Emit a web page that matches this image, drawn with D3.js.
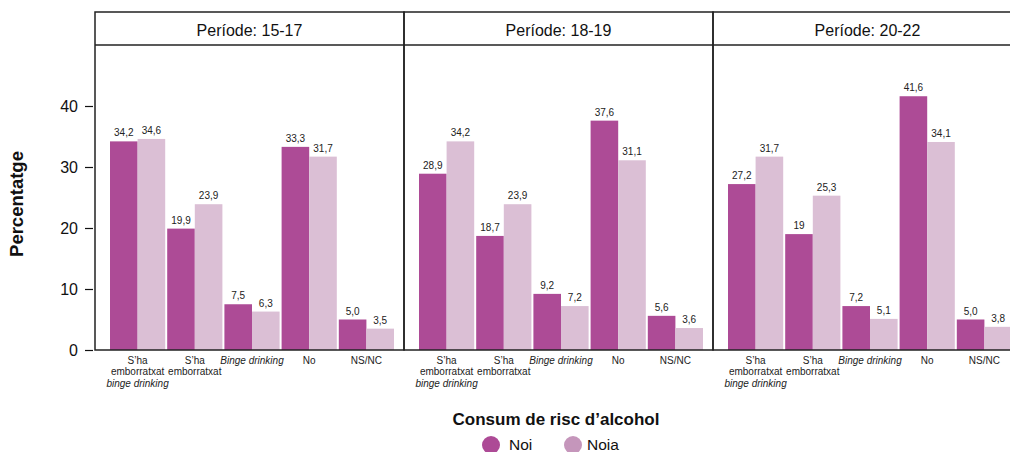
<!DOCTYPE html>
<html><head><meta charset="utf-8">
<script src="https://cdn.jsdelivr.net/npm/d3@7/dist/d3.min.js"></script>
<style>body{margin:0;background:#fff;} svg{display:block;font-family:"Liberation Sans",Arial,sans-serif;}</style>
</head><body>
<svg id="c" width="1010" height="452"></svg>
<script>
const periods = ["15-17", "18-19", "20-22"];
const categories = ["S’ha emborratxat binge drinking", "S’ha emborratxat", "Binge drinking", "No", "NS/NC"];
const sexes = ["Noi", "Noia"];
const noiValues = [
  [34.2, 19.9, 7.5, 33.3, 5.0],
  [28.9, 18.7, 9.2, 37.6, 5.6],
  [27.2, 19.0, 7.2, 41.6, 5.0]
];
const noiaValues = [
  [34.6, 23.9, 6.3, 31.7, 3.5],
  [34.2, 23.9, 7.2, 31.1, 3.6],
  [31.7, 25.3, 5.1, 34.1, 3.8]
];
const noiLabels = [
  ["34,2", "19,9", "7,5", "33,3", "5,0"],
  ["28,9", "18,7", "9,2", "37,6", "5,6"],
  ["27,2", "19", "7,2", "41,6", "5,0"]
];
const noiaLabels = [
  ["34,6", "23,9", "6,3", "31,7", "3,5"],
  ["34,2", "23,9", "7,2", "31,1", "3,6"],
  ["31,7", "25,3", "5,1", "34,1", "3,8"]
];
const yTicks = [0, 10, 20, 30, 40];
const colors = {Noi: "#ad4b96", Noia: "#dbbfd5"};
const legendColors = {Noi: "#ad4a96", Noia: "#c596bb"};

const svg = d3.select("#c");
const topY = 12, stripH = 33, bottomY = 350, panelW = 309, firstLeft = 95;
const y = d3.scaleLinear().domain([0, 50]).range([bottomY, topY + stripH]);

const catLines = {
  "S’ha emborratxat binge drinking": [["S’ha", false], ["emborratxat", false], ["binge drinking", true]],
  "S’ha emborratxat": [["S’ha", false], ["emborratxat", false]],
  "Binge drinking": [["Binge drinking", true]],
  "No": [["No", false]],
  "NS/NC": [["NS/NC", false]]
};

periods.forEach((p, pi) => {
  const left = firstLeft + pi * panelW;
  const g = svg.append("g");
  const x = d3.scaleBand().domain(categories).range([left + 15, left + 299]).paddingInner(0.035);
  const xs = d3.scaleBand().domain(sexes).range([0, x.bandwidth()]);
  const rows = [];
  categories.forEach((c, ci) => {
    rows.push({c, s: "Noi", v: noiValues[pi][ci], l: noiLabels[pi][ci]});
    rows.push({c, s: "Noia", v: noiaValues[pi][ci], l: noiaLabels[pi][ci]});
  });
  g.selectAll("rect.bar").data(rows).join("rect").attr("class", "bar")
    .attr("x", d => x(d.c) + xs(d.s)).attr("width", xs.bandwidth())
    .attr("y", d => y(d.v)).attr("height", d => y(0) - y(d.v))
    .attr("fill", d => colors[d.s]);
  g.selectAll("text.val").data(rows).join("text").attr("class", "val")
    .attr("x", d => x(d.c) + xs(d.s) + xs.bandwidth() / 2)
    .attr("y", d => y(d.v) - 5)
    .attr("text-anchor", "middle").attr("font-size", 10).attr("fill", "#222")
    .text(d => d.l);
  categories.forEach(c => {
    const t = g.append("text").attr("text-anchor", "middle").attr("font-size", 10).attr("fill", "#222");
    catLines[c].forEach((ln, li) => {
      t.append("tspan").attr("x", x(c) + x.bandwidth() / 2).attr("y", 363.5 + li * 11.6)
        .attr("font-style", ln[1] ? "italic" : "normal").text(ln[0]);
    });
  });
  g.append("rect").attr("x", left).attr("y", topY).attr("width", panelW).attr("height", bottomY - topY)
    .attr("fill", "none").attr("stroke", "#222").attr("stroke-width", 1.5);
  g.append("line").attr("x1", left).attr("x2", left + panelW).attr("y1", topY + stripH).attr("y2", topY + stripH)
    .attr("stroke", "#222").attr("stroke-width", 1.5);
  g.append("text").attr("x", left + panelW / 2).attr("y", topY + 24).attr("text-anchor", "middle")
    .attr("font-size", 16).attr("fill", "#111").text("Període: " + p);
});

const ya = svg.append("g").attr("transform", "translate(93,0)")
  .call(d3.axisLeft(y).tickValues(yTicks).tickSize(8).tickPadding(7));
ya.select(".domain").remove();
ya.selectAll(".tick line").attr("stroke", "#111").attr("stroke-width", 1.2);
ya.selectAll(".tick text").attr("font-size", 16).attr("fill", "#111").attr("font-family", "Liberation Sans, Arial, sans-serif");

svg.append("text").attr("transform", "translate(23,204) rotate(-90)").attr("text-anchor", "middle")
  .attr("font-size", 18.5).attr("font-weight", "bold").attr("fill", "#111").text("Percentatge");

svg.append("text").attr("x", 556).attr("y", 425).attr("text-anchor", "middle")
  .attr("font-size", 17).attr("font-weight", "bold").attr("fill", "#111").text("Consum de risc d’alcohol");

const legendX = [491, 573];
const legendTextX = [509, 587];
sexes.forEach((s, i) => {
  svg.append("circle").attr("cx", legendX[i]).attr("cy", 445).attr("r", 9).attr("fill", legendColors[s]);
  svg.append("text").attr("x", legendTextX[i]).attr("y", 450).attr("font-size", 15.5).attr("fill", "#111").text(s);
});
</script>
</body></html>
